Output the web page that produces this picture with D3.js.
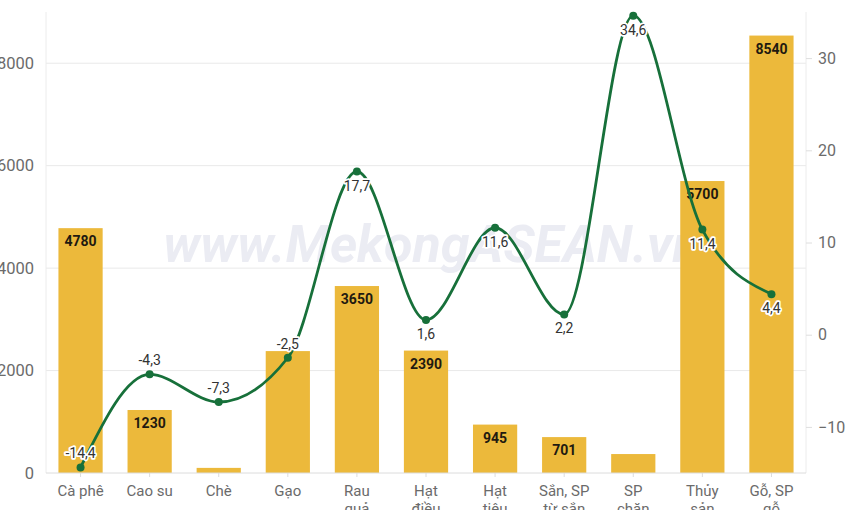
<!DOCTYPE html>
<meta charset="utf-8">
<title>Xuất khẩu nông lâm thủy sản</title>
<script src="https://cdn.jsdelivr.net/npm/d3@7"></script>
<style>
  body { margin: 0; background: #fff; }
  svg { display: block; font-family: Roboto, "Noto Sans", sans-serif; }
</style>
<body>
<script>

// categories, each split into the lines shown under the axis
var categories = [
  ["Cà phê"], ["Cao su"], ["Chè"], ["Gạo"], ["Rau", "quả"], ["Hạt", "điều"],
  ["Hạt", "tiêu"], ["Sắn, SP", "từ sắn"], ["SP", "chăn", "nuôi"], ["Thủy", "sản"], ["Gỗ, SP", "gỗ"]
];
// bar series (left axis)
var values = [4780, 1230, 100, 2380, 3650, 2390, 945, 701, 370, 5700, 8540];
// which bars carry a value label
var showBarLabel = [true, true, false, false, true, true, true, true, false, true, true];
// line series, % change (right axis)
var changes = [-14.4, -4.3, -7.3, -2.5, 17.7, 1.6, 11.6, 2.2, 34.6, 11.4, 4.4];

var leftTicks = [0, 2000, 4000, 6000, 8000];
var rightTicks = [-10, 0, 10, 20, 30];

var width = 850, height = 510;
var plotLeft = 46, plotRight = 806, plotTop = 12, plotBottom = 473;

var svg = d3.select("body").append("svg")
    .attr("width", width)
    .attr("height", height);

var names = categories.map(function(d) { return d.join(" "); });

var x = d3.scaleBand()
    .domain(names)
    .range([plotLeft, plotRight])
    .paddingInner(0.36)
    .paddingOuter(0.18);

var y = d3.scaleLinear().domain([0, 9000]).range([plotBottom, plotTop]);
var y2 = d3.scaleLinear().domain([-15, 35]).range([plotBottom, plotTop]);

var fmt = function(v) { return String(v).replace(".", ","); };

// grid
svg.append("g")
  .selectAll("line")
  .data(leftTicks.slice(1))
  .join("line")
    .attr("x1", plotLeft).attr("x2", plotRight)
    .attr("y1", function(d) { return y(d); })
    .attr("y2", function(d) { return y(d); })
    .attr("stroke", "#e9e9e9");

svg.append("g")
  .selectAll("line")
  .data([plotLeft, plotRight])
  .join("line")
    .attr("x1", function(d) { return d; }).attr("x2", function(d) { return d; })
    .attr("y1", plotTop).attr("y2", plotBottom)
    .attr("stroke", "#ececec");

// watermark
svg.append("text")
    .attr("x", 432)
    .attr("y", 262)
    .attr("text-anchor", "middle")
    .attr("font-size", 52)
    .attr("font-weight", 700)
    .attr("font-style", "italic")
    .attr("fill", "#ebecf3")
    .text("www.MekongASEAN.vn");

// left axis
var yAxis = svg.append("g")
    .attr("transform", "translate(" + plotLeft + ",0)")
    .call(d3.axisLeft(y).tickValues(leftTicks).tickFormat(d3.format("d"))
      .tickSize(0).tickPadding(12));
yAxis.select(".domain").remove();
yAxis.selectAll("text").attr("font-size", 16.5).attr("fill", "#6b6b6b")
    .attr("font-family", "Roboto, sans-serif");

// right axis
var y2Axis = svg.append("g")
    .attr("transform", "translate(" + plotRight + ",0)")
    .call(d3.axisRight(y2).tickValues(rightTicks).tickSize(6).tickPadding(6));
y2Axis.select(".domain").remove();
y2Axis.selectAll("line").attr("stroke", "#dedede");
y2Axis.selectAll("text").attr("font-size", 16).attr("fill", "#6b6b6b")
    .attr("font-family", "Roboto, sans-serif");

// bars
svg.append("g")
  .selectAll("rect")
  .data(values)
  .join("rect")
    .attr("x", function(d, i) { return x(names[i]); })
    .attr("y", function(d) { return y(d); })
    .attr("width", x.bandwidth())
    .attr("height", function(d) { return y(0) - y(d); })
    .attr("fill", "#ecb93b");

svg.append("g")
  .selectAll("text")
  .data(values.map(function(v, i) { return {v: v, i: i}; })
    .filter(function(d) { return showBarLabel[d.i]; }))
  .join("text")
    .attr("x", function(d) { return x(names[d.i]) + x.bandwidth() / 2; })
    .attr("y", function(d) { return y(d.v) + 18; })
    .attr("text-anchor", "middle")
    .attr("font-size", 14)
    .attr("font-weight", 700)
    .attr("fill", "#1f1a10")
    .text(function(d) { return d.v; });

// baseline and category ticks
svg.append("line")
    .attr("x1", plotLeft).attr("x2", plotRight)
    .attr("y1", plotBottom).attr("y2", plotBottom)
    .attr("stroke", "#dcdcdc");

var xAxis = svg.append("g")
    .attr("transform", "translate(0," + plotBottom + ")")
    .call(d3.axisBottom(x).tickSize(4).tickFormat(""));
xAxis.select(".domain").remove();
xAxis.selectAll("line").attr("stroke", "#dcdcdc");

svg.append("g")
  .selectAll("text")
  .data(categories)
  .join("text")
    .attr("x", function(d, i) { return x(names[i]) + x.bandwidth() / 2; })
    .attr("y", 496)
    .attr("text-anchor", "middle")
    .attr("font-size", 15)
    .attr("fill", "#6b6b6b")
  .selectAll("tspan")
  .data(function(d) { return d; })
  .join("tspan")
    .attr("x", function() { return this.parentNode.getAttribute("x"); })
    .attr("dy", function(d, i) { return i ? 18 : 0; })
    .text(function(d) { return d; });

// line
var cx = function(i) { return x(names[i]) + x.bandwidth() / 2; };

svg.append("path")
    .datum(changes)
    .attr("fill", "none")
    .attr("stroke", "#17703a")
    .attr("stroke-width", 2.8)
    .attr("d", d3.line()
      .x(function(d, i) { return cx(i); })
      .y(function(d) { return y2(d); })
      .curve(d3.curveMonotoneX));

svg.append("g")
  .selectAll("circle")
  .data(changes)
  .join("circle")
    .attr("cx", function(d, i) { return cx(i); })
    .attr("cy", function(d) { return y2(d); })
    .attr("r", 4)
    .attr("fill", "#17703a");

svg.append("g")
  .selectAll("text")
  .data(changes)
  .join("text")
    .attr("x", function(d, i) { return cx(i); })
    .attr("y", function(d) { return d < 0 ? y2(d) - 9 : y2(d) + 19; })
    .attr("text-anchor", "middle")
    .attr("font-size", 14)
    .attr("fill", "#333")
    .attr("stroke", "#fff")
    .attr("stroke-width", 3.5)
    .attr("stroke-linejoin", "round")
    .attr("paint-order", "stroke")
    .text(function(d) { return fmt(d); });

</script>
</body>
